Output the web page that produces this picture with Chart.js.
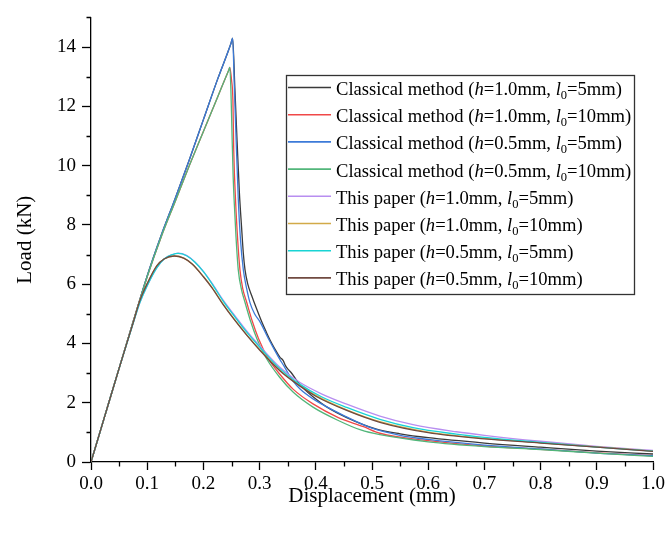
<!DOCTYPE html>
<html>
<head>
<meta charset="utf-8">
<script src="https://cdn.jsdelivr.net/npm/chart.js@4/dist/chart.umd.min.js"></script>
<style>
html,body{margin:0;padding:0;background:#fff;}
#wrap{width:668px;height:539px;}
</style>
</head>
<body>
<div id="wrap"><canvas id="c" width="668" height="539"></canvas></div>
<script>
// ---- tick values / labels ----
const xTickVals = [0,0.1,0.2,0.3,0.4,0.5,0.6,0.7,0.8,0.9,1.0];
const xTickLabels = ['0.0','0.1','0.2','0.3','0.4','0.5','0.6','0.7','0.8','0.9','1.0'];
const xMinorVals = [0.05,0.15,0.25,0.35,0.45,0.55,0.65,0.75,0.85,0.95];
const yTickVals = [0,2,4,6,8,10,12,14];
const yTickLabels = ['0','2','4','6','8','10','12','14'];
const yMinorVals = [1,3,5,7,9,11,13,15];

// ---- series names ----
const seriesMethod = ['Classical method','Classical method','Classical method','Classical method','This paper','This paper','This paper','This paper'];
const seriesH = ['1.0','1.0','0.5','0.5','1.0','1.0','0.5','0.5'];
const seriesL0 = ['5','10','5','10','5','10','5','10'];

// ---- Classical method (h=1.0mm, l0=5mm) ----
const c1X = [0,0.025,0.05,0.075,0.1,0.125,0.15,0.175,0.2,0.225,0.249,0.252,0.256,0.260,0.264,0.268,0.271,0.274,0.279,0.286,0.295,0.304,0.312,0.319,0.327,0.336,0.342,0.346,0.350,0.356,0.365,0.38,0.395,0.42,0.455,0.508,0.55,0.6,0.7,0.8,0.9,1.0];
const c1Y = [0,1.58,3.16,4.73,6.28,7.65,8.9,10.2,11.55,12.9,14.12,14.3,12.6,10.8,9.1,7.9,7.05,6.49,6.0,5.61,5.15,4.72,4.38,4.1,3.82,3.54,3.42,3.25,3.14,3.02,2.78,2.45,2.2,1.85,1.5,1.11,0.95,0.82,0.64,0.5,0.37,0.27];

// ---- Classical method (h=1.0mm, l0=10mm) ----
const c2X = [0,0.025,0.05,0.075,0.1,0.125,0.15,0.175,0.2,0.225,0.245,0.247,0.250,0.2525,0.254,0.2575,0.261,0.265,0.270,0.277,0.287,0.298,0.315,0.336,0.36,0.395,0.44,0.485,0.514,0.6,0.7,0.8,0.9,1.0];
const c2Y = [0,1.58,3.16,4.73,6.25,7.6,8.8,10.0,11.15,12.3,13.22,13.31,12.9,12.2,10.5,8.71,7.5,6.49,5.85,5.39,4.75,4.17,3.5,2.96,2.45,1.96,1.5,1.19,0.97,0.72,0.54,0.43,0.31,0.21];

// ---- Classical method (h=0.5mm, l0=5mm) ----
const c3X = [0,0.025,0.05,0.075,0.1,0.125,0.15,0.175,0.2,0.225,0.249,0.252,0.255,0.258,0.262,0.266,0.271,0.277,0.283,0.291,0.301,0.316,0.326,0.336,0.343,0.350,0.36,0.372,0.395,0.455,0.5,0.55,0.6,0.7,0.8,0.9,1.0];
const c3Y = [0,1.58,3.16,4.73,6.28,7.65,8.9,10.2,11.55,12.9,14.12,14.3,12.7,11.0,8.9,7.5,6.49,5.85,5.37,5.0,4.72,4.15,3.8,3.46,3.25,3.02,2.72,2.46,2.13,1.52,1.14,0.9,0.76,0.57,0.44,0.3,0.21];

// ---- Classical method (h=0.5mm, l0=10mm) ----
const c4X = [0,0.025,0.05,0.075,0.1,0.125,0.15,0.175,0.2,0.225,0.245,0.247,0.249,0.251,0.253,0.255,0.258,0.262,0.268,0.274,0.284,0.295,0.312,0.336,0.36,0.395,0.44,0.48,0.514,0.6,0.7,0.8,0.9,1.0];
const c4Y = [0,1.58,3.16,4.73,6.25,7.6,8.8,10.0,11.15,12.3,13.22,13.31,12.5,11.0,9.6,8.71,7.6,6.49,5.8,5.39,4.75,4.17,3.5,2.85,2.35,1.85,1.4,1.08,0.92,0.68,0.52,0.42,0.3,0.19];

// ---- This paper (h=1.0mm, l0=5mm) ----
const p1X = [0,0.025,0.05,0.075,0.087,0.1,0.117,0.13,0.145,0.155,0.17,0.185,0.2,0.215,0.2355,0.255,0.277,0.3,0.336,0.372,0.41,0.455,0.514,0.573,0.65,0.7,0.8,0.9,1.0];
const p1Y = [0,1.58,3.16,4.68,5.38,5.95,6.55,6.85,7.0,7.05,6.97,6.75,6.43,6.04,5.45,4.96,4.42,3.92,3.2,2.68,2.3,1.95,1.55,1.26,1.02,0.9,0.7,0.53,0.39];

// ---- This paper (h=1.0mm, l0=10mm) ----
const p2X = [0,0.025,0.05,0.075,0.087,0.1,0.117,0.13,0.148,0.165,0.18,0.2,0.215,0.2355,0.255,0.277,0.3,0.336,0.36,0.4,0.455,0.514,0.6,0.7,0.8,0.9,1.0];
const p2Y = [0,1.58,3.16,4.7,5.45,6.02,6.62,6.85,6.95,6.88,6.68,6.26,5.9,5.32,4.82,4.3,3.8,3.1,2.75,2.25,1.76,1.36,1.01,0.8,0.65,0.51,0.37];

// ---- This paper (h=0.5mm, l0=5mm) ----
const p3X = [0,0.025,0.05,0.075,0.087,0.1,0.117,0.13,0.145,0.155,0.17,0.185,0.2,0.215,0.2355,0.255,0.277,0.3,0.336,0.372,0.41,0.455,0.514,0.573,0.65,0.7,0.8,0.9,1.0];
const p3Y = [0,1.58,3.16,4.68,5.38,5.95,6.55,6.85,7.0,7.04,6.96,6.74,6.42,6.02,5.42,4.92,4.38,3.88,3.15,2.62,2.2,1.84,1.44,1.16,0.94,0.83,0.66,0.5,0.37];

// ---- This paper (h=0.5mm, l0=10mm) ----
const p4X = [0,0.025,0.05,0.075,0.087,0.1,0.117,0.13,0.148,0.165,0.18,0.2,0.215,0.2355,0.255,0.277,0.3,0.336,0.36,0.4,0.455,0.514,0.6,0.7,0.8,0.9,1.0];
const p4Y = [0,1.58,3.16,4.7,5.45,6.02,6.62,6.85,6.95,6.88,6.68,6.25,5.88,5.3,4.8,4.28,3.78,3.08,2.72,2.22,1.74,1.34,0.99,0.78,0.64,0.5,0.36];

const seriesX = [c1X,c2X,c3X,c4X,p1X,p2X,p3X,p4X];
const seriesY = [c1Y,c2Y,c3Y,c4Y,p1Y,p2Y,p3Y,p4Y];
const seriesColors = ['#3a3a3a','#f04848','#3c7ad8','#52b67a','#b88ef0','#d2aa48','#18d4d4','#704a40'];

const SERIF = '"Liberation Serif","Times New Roman",serif';

const datasets = seriesX.map((xs, i) => ({
  label: seriesMethod[i] + ' (h=' + seriesH[i] + 'mm, l0=' + seriesL0[i] + 'mm)',
  data: xs.map((x, k) => ({x: x, y: seriesY[i][k]})),
  borderColor: seriesColors[i],
  backgroundColor: seriesColors[i],
  borderWidth: 1.3,
  pointRadius: 0,
  fill: false,
  cubicInterpolationMode: 'monotone',
  order: seriesX.length - i
}));

const decorPlugin = {
  id: 'decor',
  afterDraw(chart) {
    const ctx = chart.ctx;
    const xs = chart.scales.x, ys = chart.scales.y;
    const area = chart.chartArea;
    ctx.save();
    // minor ticks
    ctx.strokeStyle = '#000';
    ctx.lineWidth = 1.3;
    ctx.beginPath();
    xMinorVals.forEach(v => {
      const px = Math.round(xs.getPixelForValue(v)) + 0.5;
      ctx.moveTo(px, area.bottom);
      ctx.lineTo(px, area.bottom + 4.5);
    });
    yMinorVals.forEach(v => {
      const py = Math.round(ys.getPixelForValue(v)) + 0.5;
      ctx.moveTo(area.left, py);
      ctx.lineTo(area.left - 4.5, py);
    });
    ctx.stroke();

    // legend
    const L = 286, T = 75, R = 634, B = 294;
    ctx.fillStyle = '#fff';
    ctx.fillRect(L, T, R - L, B - T);
    ctx.strokeStyle = '#333';
    ctx.lineWidth = 1.3;
    ctx.strokeRect(L + 0.5, T + 0.5, R - L, B - T);
    chart.data.datasets.forEach((ds, i) => {
      const cy = 87.5 + i * 27.2;
      ctx.strokeStyle = ds.borderColor;
      ctx.lineWidth = 1.6;
      ctx.beginPath();
      ctx.moveTo(288, cy);
      ctx.lineTo(331, cy);
      ctx.stroke();
      const base = cy + 7.5;
      let x = 336;
      const parts = [
        [seriesMethod[i] + ' (', '18.6px ' + SERIF, 0],
        ['h', 'italic 18.6px ' + SERIF, 0],
        ['=' + seriesH[i] + 'mm, ', '18.6px ' + SERIF, 0],
        ['l', 'italic 18.6px ' + SERIF, 0],
        ['0', '12.5px ' + SERIF, 4],
        ['=' + seriesL0[i] + 'mm)', '18.6px ' + SERIF, 0]
      ];
      ctx.fillStyle = '#000';
      ctx.textBaseline = 'alphabetic';
      ctx.textAlign = 'left';
      parts.forEach(p => {
        ctx.font = p[1];
        ctx.fillText(p[0], x, base + p[2]);
        x += ctx.measureText(p[0]).width;
      });
    });
    ctx.restore();
  }
};

new Chart(document.getElementById('c'), {
  type: 'line',
  data: { datasets: datasets },
  options: {
    responsive: false,
    animation: false,
    devicePixelRatio: 1,
    layout: { padding: { left: 0, right: 15, top: 10, bottom: 0 } },
    plugins: { legend: { display: false }, tooltip: { enabled: false } },
    scales: {
      x: {
        type: 'linear',
        position: 'bottom',
        min: 0, max: 1,
        afterBuildTicks: s => { s.ticks = xTickVals.map(v => ({value: v})); },
        afterFit: s => { s.height = 77; },
        ticks: {
          font: { family: SERIF, size: 19 },
          color: '#000',
          padding: 3,
          maxRotation: 0,
          autoSkip: false,
          callback: (v, i) => xTickLabels[i]
        },
        grid: { drawOnChartArea: false, drawTicks: true, tickLength: 8, tickColor: '#000', tickWidth: 1.3 },
        border: { display: true, color: '#000', width: 1.3 },
        title: {
          display: true, text: 'Displacement (mm)', color: '#000',
          font: { family: SERIF, size: 21 },
          padding: { top: 0, bottom: 30 }
        }
      },
      y: {
        type: 'linear',
        position: 'left',
        min: 0, max: 15,
        afterBuildTicks: s => { s.ticks = yTickVals.map(v => ({value: v})); },
        afterFit: s => { s.width = 91; },
        ticks: {
          font: { family: SERIF, size: 19 },
          color: '#000',
          padding: 6,
          autoSkip: false,
          callback: (v, i) => yTickLabels[i]
        },
        grid: { drawOnChartArea: false, drawTicks: true, tickLength: 9, tickColor: '#000', tickWidth: 1.3 },
        border: { display: true, color: '#000', width: 1.3 },
        title: {
          display: true, text: 'Load (kN)', color: '#000',
          font: { family: SERIF, size: 21 },
          padding: { top: 13, bottom: 0 }
        }
      }
    }
  },
  plugins: [decorPlugin]
});
</script>
</body>
</html>
